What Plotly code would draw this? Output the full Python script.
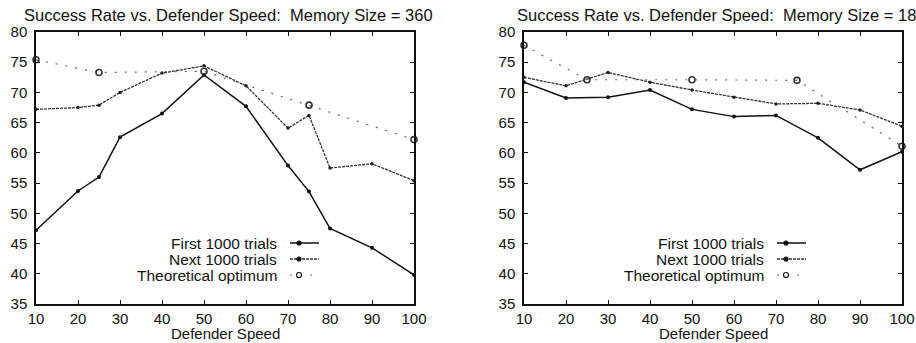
import plotly.graph_objects as go

# ---------------- data ----------------
speed_left = [10, 20, 25, 30, 40, 50, 60, 70, 75, 80, 90, 100]
first_left = [47.2, 53.7, 56.0, 62.6, 66.5, 72.9, 67.7, 57.9, 53.6, 47.5, 44.3, 39.8]
next_left = [67.2, 67.5, 67.9, 70.0, 73.2, 74.4, 71.1, 64.1, 66.2, 57.5, 58.2, 55.4]

speed_right = [10, 20, 30, 40, 50, 60, 70, 80, 90, 100]
first_right = [71.7, 69.1, 69.2, 70.4, 67.2, 66.0, 66.2, 62.5, 57.2, 60.2]
next_right = [72.5, 71.1, 73.3, 71.7, 70.4, 69.2, 68.1, 68.2, 67.1, 64.4]

opt_speed = [10, 25, 50, 75, 100]
opt_left = [75.4, 73.3, 73.5, 67.9, 62.2]
opt_right = [77.8, 72.1, 72.1, 72.0, 61.1]

x_ticks = [10, 20, 30, 40, 50, 60, 70, 80, 90, 100]
y_ticks = [35, 40, 45, 50, 55, 60, 65, 70, 75, 80]

titles = ["Success Rate vs. Defender Speed:  Memory Size = 360",
          "Success Rate vs. Defender Speed:  Memory Size = 18"]
legend_names = ["First 1000 trials", "Next 1000 trials", "Theoretical optimum"]

FONT = "Liberation Sans, Arial, Helvetica, sans-serif"
W, H = 916, 343
ML, MR, MT, MB = 0, 0, 32, 39
PH = H - MT - MB

dom1 = [36 / W, 414 / W]
dom2 = [524 / W, 902 / W]

fig = go.Figure()

styles = [
    dict(line=dict(color="#111", width=1.5, dash="solid"),
         marker=dict(symbol="circle", size=4, color="#111")),
    dict(line=dict(color="#333", width=1.3, dash="3px,1px"),
         marker=dict(symbol="circle", size=3.5, color="#222")),
    dict(line=dict(color="#666", width=1.2, dash="2px,8px"),
         marker=dict(symbol="circle-open", size=6, color="#333", line=dict(width=1.6))),
]

sets = [
    ("x", "y", [(speed_left, first_left), (speed_left, next_left), (opt_speed, opt_left)]),
    ("x2", "y2", [(speed_right, first_right), (speed_right, next_right), (opt_speed, opt_right)]),
]
for xa, ya, series in sets:
    for (xs, ys), st, nm in zip(series, styles, legend_names):
        fig.add_trace(go.Scatter(x=xs, y=ys, mode="lines+markers", name=nm,
                                 xaxis=xa, yaxis=ya, showlegend=False,
                                 line=st["line"], marker=st["marker"], cliponaxis=False))

axis_common = dict(showline=True, linecolor="#111", linewidth=1.5, mirror="ticks",
                   ticks="inside", ticklen=4, tickwidth=1, tickcolor="#111",
                   showgrid=False, zeroline=False, automargin=False,
                   tickfont=dict(family=FONT, size=15, color="#111"))

fig.update_layout(
    width=W, height=H,
    margin=dict(l=ML, r=MR, t=MT, b=MB),
    paper_bgcolor="white", plot_bgcolor="white",
    showlegend=False,
    xaxis=dict(domain=dom1, range=[10, 100], tickvals=x_ticks, anchor="y",
               ticklabelstandoff=0, **axis_common),
    yaxis=dict(domain=[0, 1], range=[35, 80], tickvals=y_ticks, anchor="x",
               ticklabelstandoff=4, **axis_common),
    xaxis2=dict(domain=dom2, range=[10, 100], tickvals=x_ticks, anchor="y2",
                ticklabelstandoff=0, **axis_common),
    yaxis2=dict(domain=[0, 1], range=[35, 80], tickvals=y_ticks, anchor="x2",
                ticklabelstandoff=4, **axis_common),
)

annotations = []
shapes = []
for dom, title in zip([dom1, dom2], titles):
    cx = (dom[0] + dom[1]) / 2
    annotations.append(dict(text=title, x=cx + 3 / W, y=(304 - 15) / PH, xref="paper",
                            yref="paper", showarrow=False, xanchor="center", yanchor="middle",
                            font=dict(family=FONT, size=16.5, color="#111")))
    annotations.append(dict(text="Defender Speed", x=cx, y=-MB / PH, xref="paper",
                            yref="paper", showarrow=False, xanchor="center", yanchor="bottom",
                            borderpad=0,
                            font=dict(family=FONT, size=15, color="#111")))

# custom legend (text right-aligned, sample to the right)
legend_rows_px = [243, 259, 275]
for text_right_px in [279, 766]:
    s0 = text_right_px + 11
    s1 = text_right_px + 40
    for i, (nm, st) in enumerate(zip(legend_names, styles)):
        yp = (304 - legend_rows_px[i]) / PH
        annotations.append(dict(text=nm, x=text_right_px / W, y=yp, xref="paper", yref="paper",
                                showarrow=False, xanchor="right", yanchor="middle",
                                font=dict(family=FONT, size=15.5, color="#111")))
        shapes.append(dict(type="line", xref="paper", yref="paper",
                           x0=s0 / W, x1=s1 / W, y0=yp, y1=yp,
                           line=dict(color=st["line"]["color"], width=st["line"]["width"],
                                     dash=st["line"]["dash"])))
        mx = (s0 + 9) / W
        r = 2 if i < 2 else 2.5
        shapes.append(dict(type="circle", xref="paper", yref="paper",
                           xsizemode="pixel", ysizemode="pixel", xanchor=mx, yanchor=yp,
                           x0=-r, x1=r, y0=-r, y1=r,
                           fillcolor="#111" if i < 2 else "white",
                           line=dict(color="#111", width=1.2)))

fig.update_layout(annotations=annotations, shapes=shapes)
fig.write_html("out.html", config={"displayModeBar": False},
               post_script="document.body.style.margin='0';document.body.style.overflow='hidden';")
